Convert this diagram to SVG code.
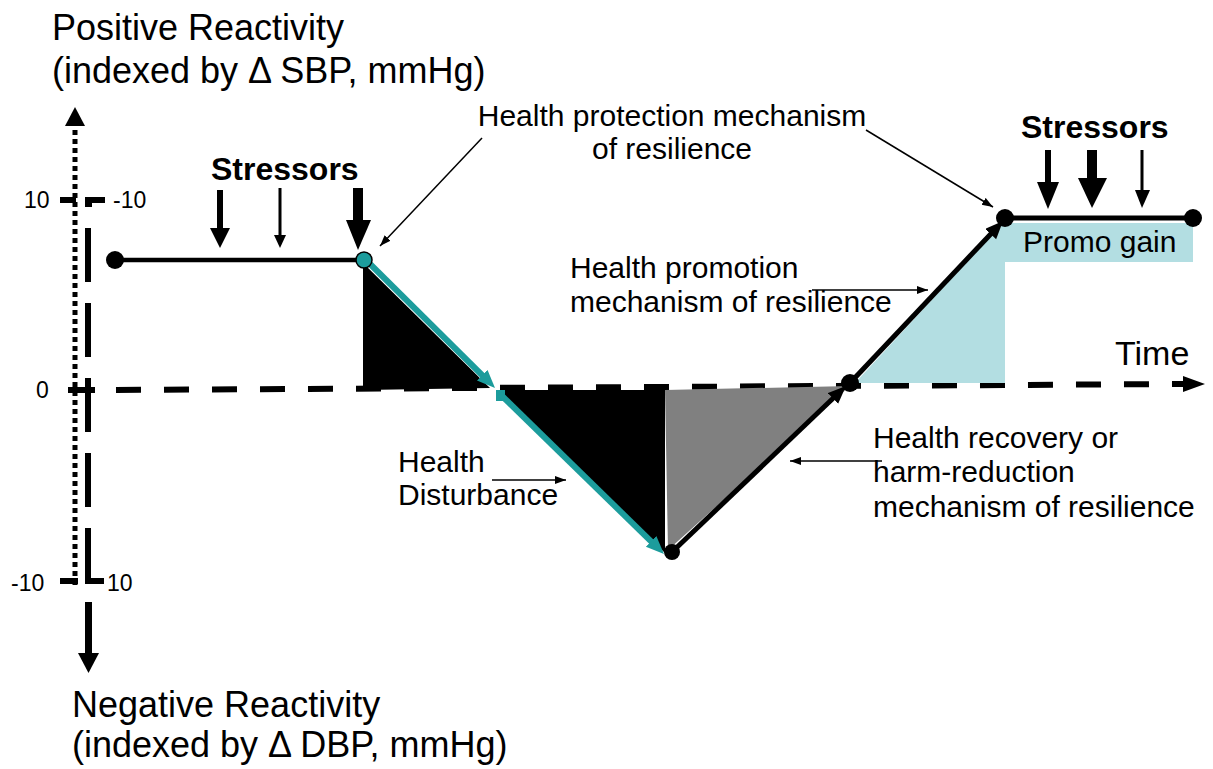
<svg xmlns="http://www.w3.org/2000/svg" width="1213" height="769" viewBox="0 0 1213 769">
<defs>
<style>
text{font-family:"Liberation Sans",Arial,sans-serif;fill:#000}
.ax{font-size:36px}
.lb{font-size:30px}
.tk{font-size:23px}
.st{font-size:32px;font-weight:bold}
.thin{stroke:#000;stroke-width:1.5;fill:none}
</style>
<marker id="ah" markerUnits="userSpaceOnUse" markerWidth="12" markerHeight="10" refX="11" refY="4" orient="auto"><path d="M0,0 L11,4 L0,8 z" fill="#000"/></marker>
<marker id="tealhead" markerUnits="userSpaceOnUse" markerWidth="20" markerHeight="16" refX="6" refY="7.5" orient="auto"><path d="M0,0 L18,7.5 L0,15 z" fill="#1c9c9c"/></marker>
<marker id="blackhead" markerUnits="userSpaceOnUse" markerWidth="20" markerHeight="16" refX="6" refY="7.5" orient="auto"><path d="M0,0 L18,7.5 L0,15 z" fill="#000"/></marker>
</defs>
<rect width="1213" height="769" fill="#fff"/>

<g id="axis-titles">
<text class="ax" x="52" y="40">Positive Reactivity</text>
<text class="ax" x="52" y="83">(indexed by Δ SBP, mmHg)</text>
<text class="ax" x="72" y="717">Negative Reactivity</text>
<text class="ax" x="72" y="757">(indexed by Δ DBP, mmHg)</text>
</g>

<g id="y-axes">
<line x1="75" y1="130" x2="75" y2="585" stroke="#000" stroke-width="5" stroke-dasharray="5 4"/>
<polygon points="75,107 65,126 85,126" fill="#000"/>
<line x1="88" y1="228" x2="88" y2="583" stroke="#000" stroke-width="6" stroke-dasharray="54 21"/>
<rect x="85" y="197" width="7" height="10" fill="#000"/>
<rect x="85" y="197" width="20" height="6" fill="#000"/>
<rect x="60" y="197" width="16" height="6" fill="#000"/>
<rect x="68" y="387" width="27" height="6" fill="#000"/>
<rect x="60" y="578" width="18" height="6" fill="#000"/>
<rect x="85" y="578" width="19" height="6" fill="#000"/>
<line x1="88.5" y1="602" x2="88.5" y2="655" stroke="#000" stroke-width="7"/>
<polygon points="78,653 99,653 88.5,673" fill="#000"/>
<text class="tk" x="24" y="208">10</text>
<text class="tk" x="113" y="208">-10</text>
<text class="tk" x="36" y="398">0</text>
<text class="tk" x="11" y="591">-10</text>
<text class="tk" x="107" y="591">10</text>
</g>

<g id="time-axis">
<line x1="116" y1="390" x2="1185" y2="384" stroke="#000" stroke-width="6" stroke-dasharray="25 23"/>
<polygon points="1183,376 1205,384 1183,392" fill="#000"/>
<text class="lb" x="1115" y="365" style="font-size:34px">Time</text>
</g>

<g id="areas">
<polygon points="363,263 490,388 363,390" fill="#000"/>
<polygon points="497,390 665,390 665,553" fill="#000"/>
<polygon points="665,390 850,386 668,550" fill="#808080"/>
<polygon points="855,383 1003,223 1193,223 1193,262 1005,262 1005,383" fill="#b3dee2"/>
</g>

<g id="curve">
<line x1="115" y1="260" x2="364" y2="260" stroke="#000" stroke-width="4.5"/>
<circle cx="115" cy="260" r="9" fill="#000"/>
<line x1="365" y1="259" x2="486.5" y2="379.5" stroke="#1c9c9c" stroke-width="6" marker-end="url(#tealhead)"/>
<circle cx="364" cy="260" r="8" fill="#1c9c9c" stroke="#000" stroke-width="1.5"/>
<rect x="496" y="390" width="9" height="11" fill="#1c9c9c"/>
<line x1="500" y1="394" x2="655.4" y2="545.6" stroke="#1c9c9c" stroke-width="6" marker-end="url(#tealhead)"/>
<line x1="672" y1="552" x2="837.3" y2="394.3" stroke="#000" stroke-width="5" marker-end="url(#blackhead)"/>
<circle cx="672" cy="552" r="8" fill="#000"/>
<line x1="850" y1="383" x2="994.8" y2="229.7" stroke="#000" stroke-width="5" marker-end="url(#blackhead)"/>
<circle cx="850" cy="383" r="9" fill="#000"/>
<line x1="1005" y1="218" x2="1193" y2="218" stroke="#000" stroke-width="5"/>
<circle cx="1005" cy="218" r="9" fill="#000"/>
<circle cx="1193" cy="218" r="9" fill="#000"/>
<text class="lb" x="1023" y="252">Promo gain</text>
</g>

<g id="stressors-left">
<text class="st" x="211" y="180">Stressors</text>
<rect x="217" y="190" width="6" height="40" fill="#000"/>
<polygon points="210,228 230,228 220,248" fill="#000"/>
<rect x="278.5" y="188" width="3" height="48" fill="#000"/>
<polygon points="274,235 286,235 280,248" fill="#000"/>
<rect x="353" y="188" width="10" height="34" fill="#000"/>
<polygon points="346,220 371,220 358,250" fill="#000"/>
</g>

<g id="stressors-right">
<text class="st" x="1021" y="138">Stressors</text>
<rect x="1045" y="150" width="6" height="34" fill="#000"/>
<polygon points="1037,182 1059,182 1048,209" fill="#000"/>
<rect x="1087" y="150" width="10" height="30" fill="#000"/>
<polygon points="1078,178 1107,178 1092,208" fill="#000"/>
<rect x="1140.5" y="150" width="3" height="42" fill="#000"/>
<polygon points="1135,190 1150,190 1142,208" fill="#000"/>
</g>

<g id="label-protection">
<text class="lb" x="672" y="126" text-anchor="middle">Health protection mechanism</text>
<text class="lb" x="672" y="159" text-anchor="middle">of resilience</text>
</g>
<g id="label-promotion">
<text class="lb" x="570" y="278">Health promotion</text>
<text class="lb" x="570" y="312">mechanism of resilience</text>
</g>
<g id="label-disturbance">
<text class="lb" x="398" y="472">Health</text>
<text class="lb" x="398" y="505">Disturbance</text>
</g>
<g id="label-recovery">
<text class="lb" x="873" y="448">Health recovery or</text>
<text class="lb" x="873" y="482">harm-reduction</text>
<text class="lb" x="873" y="517">mechanism of resilience</text>
</g>

<g id="connectors">
<line class="thin" x1="482" y1="138" x2="380" y2="246" marker-end="url(#ah)"/>
<line class="thin" x1="866" y1="130" x2="993" y2="207" marker-end="url(#ah)"/>
<line class="thin" x1="812" y1="290" x2="928" y2="290" marker-end="url(#ah)"/>
<line class="thin" x1="492" y1="480" x2="566" y2="480" marker-end="url(#ah)"/>
<line class="thin" x1="882" y1="461" x2="790" y2="461" marker-end="url(#ah)"/>
</g>
</svg>
